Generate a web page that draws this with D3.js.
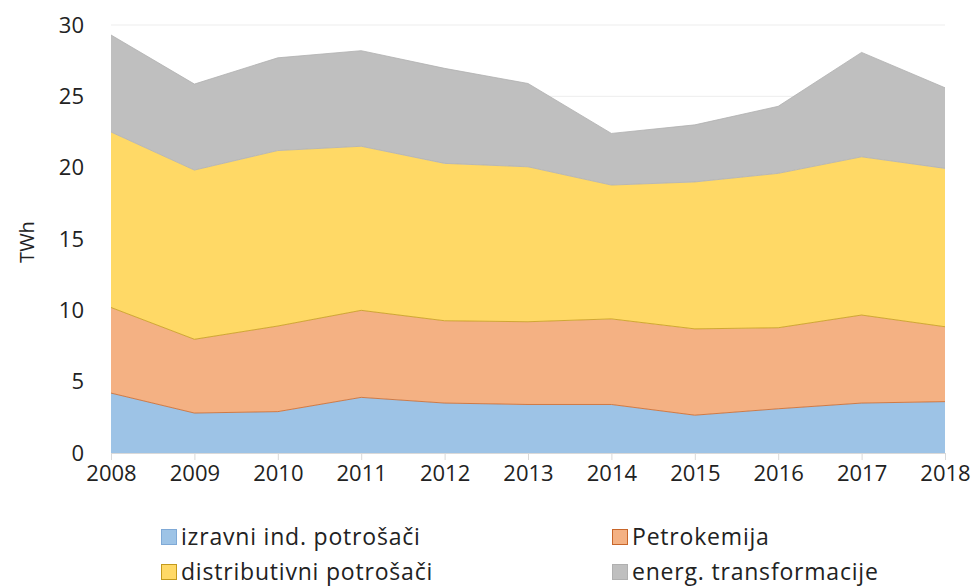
<!DOCTYPE html>
<html>
<head>
<meta charset="utf-8">
<script src="https://cdn.jsdelivr.net/npm/d3@7"></script>
<style>
  body { margin: 0; background: #fff; }
  text { font-family: "Open Sans", sans-serif; fill: #222; }
</style>
</head>
<body>
<svg id="chart" width="975" height="588"></svg>
<script>
const svg = d3.select("#chart");

// Data (TWh)
const years = [2008, 2009, 2010, 2011, 2012, 2013, 2014, 2015, 2016, 2017, 2018];
const izravni = [4.2, 2.8, 2.9, 3.9, 3.5, 3.4, 3.4, 2.65, 3.1, 3.5, 3.6];
const petrokemija = [6.0, 5.17, 6.0, 6.1, 5.77, 5.8, 6.0, 6.05, 5.68, 6.17, 5.25];
const distributivni = [12.3, 11.86, 12.3, 11.5, 11.03, 10.86, 9.38, 10.3, 10.82, 11.09, 11.1];
const transformacije = [6.8, 6.03, 6.5, 6.7, 6.66, 5.84, 3.62, 4.0, 4.7, 7.32, 5.65];
const yTicks = [0, 5, 10, 15, 20, 25, 30];

const seriesNames = ["izravni ind. potrošači", "Petrokemija", "distributivni potrošači", "energ. transformacije"];
const seriesValues = [izravni, petrokemija, distributivni, transformacije];
const fills = ["#9dc3e6", "#f4b183", "#ffd966", "#bfbfbf"];
const edges = ["#7fa9d6", "#c8662a", "#c49a1c", "#b0b0b0"];

const rows = years.map((y, i) => {
    const r = { year: y };
    seriesNames.forEach((n, k) => r[n] = seriesValues[k][i]);
    return r;
});

const stack = d3.stack().keys(seriesNames);
const stacked = stack(rows);

const x = d3.scaleLinear().domain([2008, 2018]).range([111, 945]);
const y = d3.scaleLinear().domain([0, 30]).range([453, 25]);

/*
/   Gridlines
*/
svg.append("g")
    .selectAll("line")
    .data(yTicks.slice(1))
    .join("line")
    .attr("x1", x(2008))
    .attr("x2", x(2018))
    .attr("y1", d => y(d))
    .attr("y2", d => y(d))
    .attr("stroke", "#ededed")
    .attr("stroke-width", 1);

/*
/   Areas
*/
const area = d3.area()
    .x(d => x(d.data.year))
    .y0(d => y(d[0]))
    .y1(d => y(d[1]));

svg.append("g")
    .selectAll("path")
    .data(stacked)
    .join("path")
    .attr("d", area)
    .attr("fill", (d, i) => fills[i]);

// thin border on the top edge of each series
const topLine = d3.line()
    .x(d => x(d.data.year))
    .y(d => y(d[1]));

svg.append("g")
    .selectAll("path")
    .data(stacked)
    .join("path")
    .attr("d", topLine)
    .attr("fill", "none")
    .attr("stroke", (d, i) => edges[i + 1] || edges[i])
    .attr("stroke-opacity", 0.8)
    .attr("stroke-width", 1);

/*
/   Axes
*/
const xAxis = svg.append("g")
    .attr("transform", `translate(0,${y(0)})`)
    .call(d3.axisBottom(x).tickValues(years).tickFormat(d3.format("d")).tickSize(7).tickPadding(5));
xAxis.select(".domain").attr("stroke", "#d9d9d9");
xAxis.selectAll(".tick line").attr("stroke", "#d9d9d9");
xAxis.selectAll("text")
    .style("font-family", "Open Sans, sans-serif")
    .style("font-size", "22px")
    .attr("fill", "#222");

const yAxis = svg.append("g")
    .attr("transform", `translate(${x(2008)},0)`)
    .call(d3.axisLeft(y).tickValues(yTicks).tickSize(0).tickPadding(27));
yAxis.select(".domain").remove();
yAxis.selectAll("text")
    .style("font-family", "Open Sans, sans-serif")
    .style("font-size", "22px")
    .attr("fill", "#222");

svg.append("text")
    .attr("transform", "translate(34,242) rotate(-90)")
    .attr("text-anchor", "middle")
    .style("font-size", "20px")
    .text("TWh");

/*
/   Legend
*/
const legendPos = [[161, 537], [612, 537], [161, 572], [612, 572]];

const legend = svg.append("g")
    .selectAll("g")
    .data(seriesNames)
    .join("g")
    .attr("transform", (d, i) => `translate(${legendPos[i][0]},${legendPos[i][1]})`);

legend.append("rect")
    .attr("x", 0.5)
    .attr("y", -7.5)
    .attr("width", 15)
    .attr("height", 15)
    .attr("fill", (d, i) => fills[i])
    .attr("stroke", (d, i) => edges[i])
    .attr("stroke-width", 1);

legend.append("text")
    .attr("x", 20)
    .attr("dy", "0.35em")
    .style("font-size", "23px")
    .style("letter-spacing", "0.8px")
    .text(d => d);
</script>
</body>
</html>
